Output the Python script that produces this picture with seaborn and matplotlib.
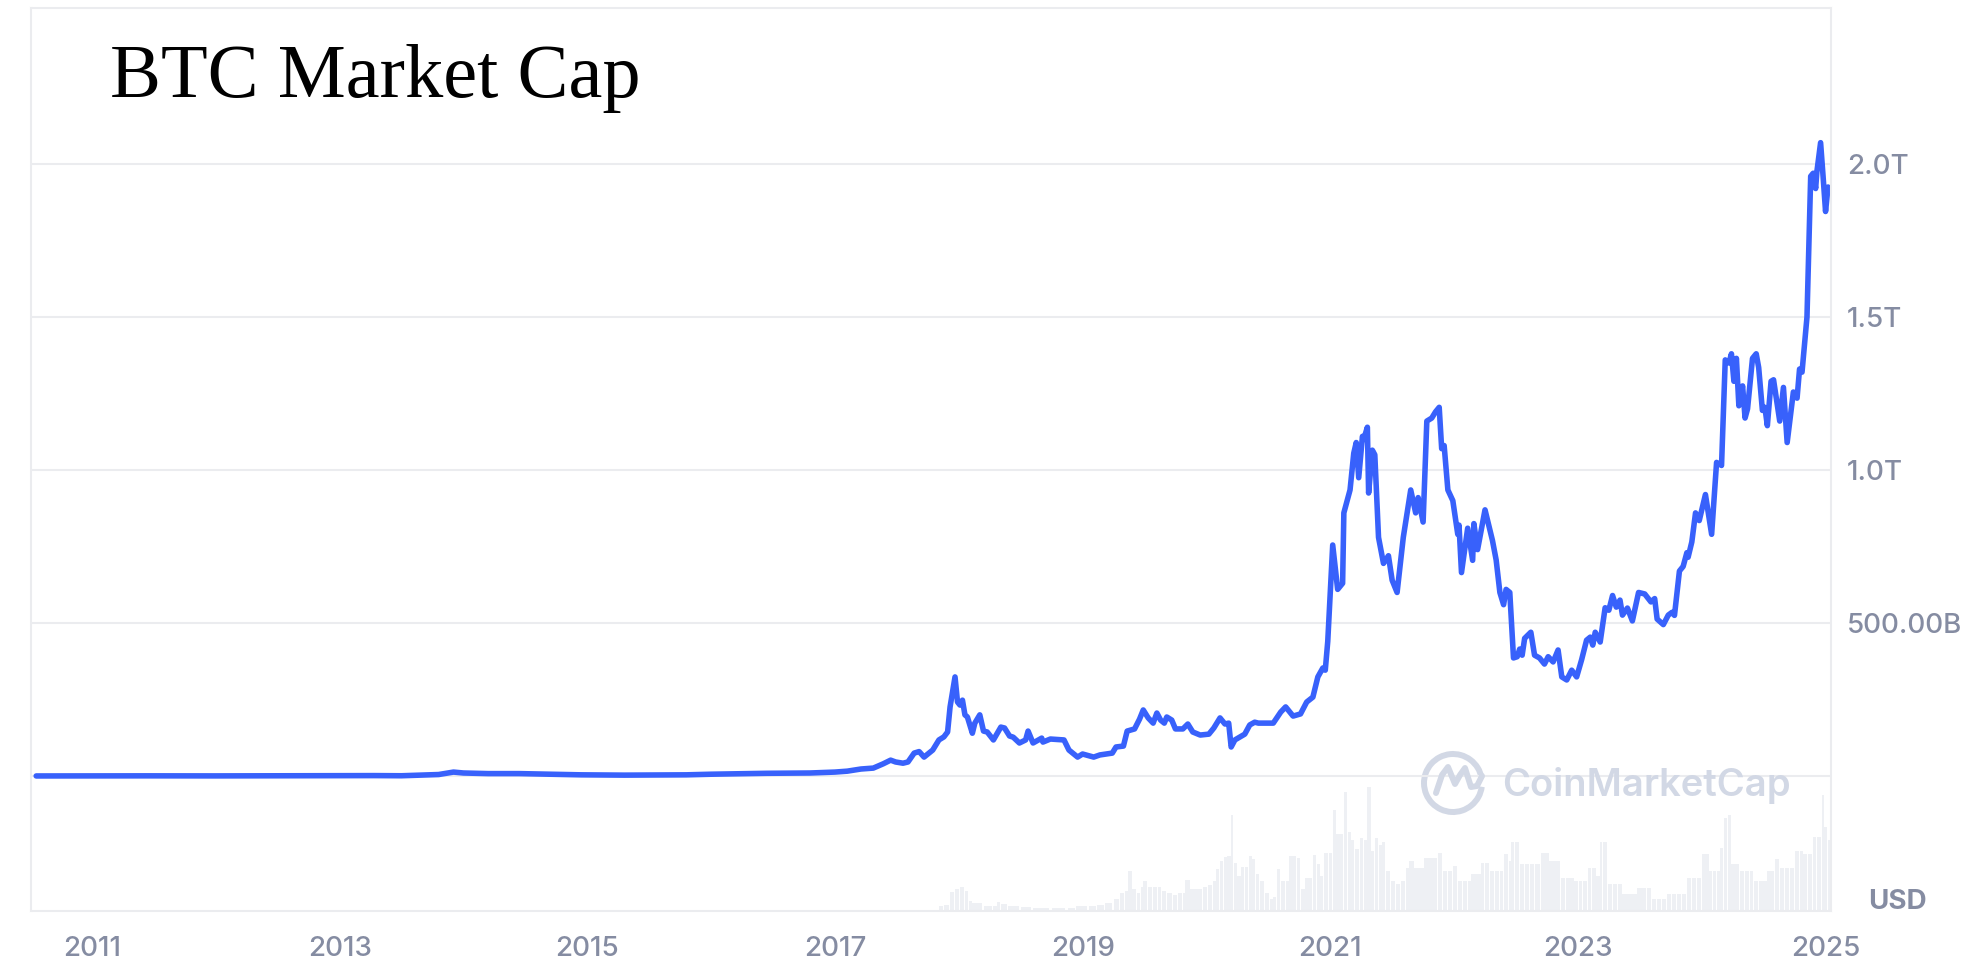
import numpy as np
import pandas as pd
import matplotlib
matplotlib.use("Agg")
import matplotlib.pyplot as plt
from matplotlib.patches import Arc
from matplotlib.lines import Line2D
import seaborn as sns

# --- Market cap (trillions USD) by fractional year ---
cap_years = [
    2010.55, 2011.00, 2011.45, 2012.00, 2012.70, 2013.00, 2013.28, 2013.50, 2013.80, 2013.92,
    2014.00, 2014.20, 2014.45, 2014.70, 2014.95, 2015.30, 2015.80, 2016.00, 2016.45, 2016.80,
    2017.00, 2017.10, 2017.21, 2017.31, 2017.39, 2017.45, 2017.49, 2017.55, 2017.59, 2017.64,
    2017.68, 2017.72, 2017.79, 2017.84, 2017.88, 2017.91, 2017.93, 2017.97, 2017.99, 2018.01,
    2018.03, 2018.05, 2018.07, 2018.11, 2018.13, 2018.17, 2018.20, 2018.23, 2018.28, 2018.34,
    2018.37, 2018.41, 2018.44, 2018.49, 2018.54, 2018.56, 2018.60, 2018.67, 2018.68, 2018.74,
    2018.85, 2018.89, 2018.96, 2019.00, 2019.09, 2019.14, 2019.24, 2019.27, 2019.33, 2019.36,
    2019.42, 2019.46, 2019.49, 2019.53, 2019.57, 2019.60, 2019.63, 2019.66, 2019.68, 2019.72,
    2019.75, 2019.81, 2019.85, 2019.89, 2019.95, 2020.02, 2020.06, 2020.11, 2020.15, 2020.18,
    2020.20, 2020.23, 2020.31, 2020.35, 2020.39, 2020.42, 2020.54, 2020.60, 2020.64, 2020.70,
    2020.76, 2020.81, 2020.86, 2020.90, 2020.94, 2020.96, 2020.98, 2021.02, 2021.06, 2021.10,
    2021.11, 2021.16, 2021.19, 2021.21, 2021.23, 2021.26, 2021.27, 2021.30, 2021.31, 2021.34,
    2021.36, 2021.39, 2021.43, 2021.47, 2021.50, 2021.54, 2021.59, 2021.65, 2021.69, 2021.71,
    2021.75, 2021.78, 2021.82, 2021.85, 2021.88, 2021.90, 2021.92, 2021.95, 2021.99, 2022.03,
    2022.04, 2022.06, 2022.11, 2022.15, 2022.16, 2022.19, 2022.25, 2022.31, 2022.34, 2022.37,
    2022.40, 2022.42, 2022.45, 2022.48, 2022.51, 2022.53, 2022.55, 2022.57, 2022.62, 2022.65,
    2022.69, 2022.73, 2022.76, 2022.80, 2022.84, 2022.87, 2022.91, 2022.95, 2022.99, 2023.03,
    2023.07, 2023.10, 2023.12, 2023.14, 2023.18, 2023.22, 2023.25, 2023.28, 2023.31, 2023.34,
    2023.36, 2023.40, 2023.44, 2023.49, 2023.54, 2023.59, 2023.62, 2023.64, 2023.69, 2023.73,
    2023.76, 2023.78, 2023.82, 2023.85, 2023.88, 2023.89, 2023.92, 2023.95, 2023.98, 2024.03,
    2024.08, 2024.12, 2024.16, 2024.19, 2024.22, 2024.24, 2024.26, 2024.28, 2024.30, 2024.33,
    2024.35, 2024.37, 2024.41, 2024.44, 2024.46, 2024.49, 2024.51, 2024.53, 2024.56, 2024.58,
    2024.63, 2024.66, 2024.69, 2024.74, 2024.77, 2024.79, 2024.81, 2024.85, 2024.88, 2024.90,
    2024.92, 2024.93, 2024.96, 2024.98, 2025.00, 2025.02,
]
cap_trillions = [
    0.0003, 0.0005, 0.0007, 0.0005, 0.0012, 0.0015, 0.0015, 0.0010, 0.0050, 0.0130,
    0.0100, 0.0080, 0.0080, 0.0060, 0.0040, 0.0030, 0.0040, 0.0060, 0.0090, 0.0100,
    0.0130, 0.0160, 0.023, 0.026, 0.040, 0.052, 0.046, 0.042, 0.046, 0.075,
    0.080, 0.062, 0.085, 0.118, 0.128, 0.144, 0.226, 0.324, 0.242, 0.232,
    0.248, 0.200, 0.193, 0.140, 0.173, 0.200, 0.147, 0.144, 0.118, 0.160,
    0.157, 0.131, 0.127, 0.108, 0.118, 0.147, 0.108, 0.124, 0.111, 0.121,
    0.118, 0.085, 0.062, 0.072, 0.062, 0.069, 0.075, 0.095, 0.098, 0.147,
    0.154, 0.186, 0.216, 0.190, 0.173, 0.206, 0.183, 0.173, 0.193, 0.183,
    0.154, 0.154, 0.170, 0.144, 0.134, 0.137, 0.157, 0.190, 0.170, 0.173,
    0.095, 0.118, 0.137, 0.167, 0.176, 0.173, 0.173, 0.209, 0.226, 0.196,
    0.203, 0.242, 0.258, 0.324, 0.353, 0.346, 0.440, 0.755, 0.610, 0.630,
    0.860, 0.935, 1.055, 1.090, 0.975, 1.110, 1.100, 1.140, 0.925, 1.065,
    1.050, 0.780, 0.695, 0.720, 0.640, 0.600, 0.780, 0.935, 0.860, 0.910,
    0.830, 1.160, 1.170, 1.190, 1.205, 1.070, 1.080, 0.935, 0.900, 0.790,
    0.820, 0.665, 0.810, 0.705, 0.825, 0.740, 0.870, 0.770, 0.706, 0.600,
    0.560, 0.610, 0.600, 0.386, 0.390, 0.415, 0.395, 0.450, 0.470, 0.395,
    0.386, 0.366, 0.390, 0.373, 0.412, 0.324, 0.314, 0.346, 0.324, 0.380,
    0.444, 0.454, 0.428, 0.470, 0.438, 0.550, 0.542, 0.590, 0.552, 0.575,
    0.526, 0.549, 0.507, 0.600, 0.595, 0.569, 0.580, 0.513, 0.495, 0.526,
    0.535, 0.525, 0.670, 0.685, 0.730, 0.715, 0.765, 0.860, 0.835, 0.920,
    0.790, 1.025, 1.015, 1.360, 1.350, 1.380, 1.290, 1.365, 1.210, 1.275,
    1.170, 1.200, 1.365, 1.380, 1.335, 1.195, 1.205, 1.145, 1.290, 1.295,
    1.160, 1.270, 1.090, 1.255, 1.235, 1.330, 1.320, 1.500, 1.960, 1.970,
    1.920, 1.975, 2.070, 1.960, 1.845, 1.925,
]

# --- Trading volume (billions USD) by fractional year ---
vol_years = [
    2017.84, 2017.88, 2017.93, 2017.97, 2018.01, 2018.05, 2018.08, 2018.11, 2018.20, 2018.28,
    2018.31, 2018.34, 2018.40, 2018.50, 2018.60, 2018.75, 2018.88, 2018.95, 2019.05, 2019.12,
    2019.18, 2019.25, 2019.30, 2019.34, 2019.37, 2019.40, 2019.44, 2019.47, 2019.49, 2019.53,
    2019.57, 2019.61, 2019.64, 2019.68, 2019.73, 2019.77, 2019.81, 2019.83, 2019.87, 2019.92,
    2019.97, 2020.01, 2020.05, 2020.08, 2020.11, 2020.14, 2020.17, 2020.20, 2020.22, 2020.25,
    2020.28, 2020.31, 2020.34, 2020.37, 2020.40, 2020.43, 2020.47, 2020.51, 2020.54, 2020.57,
    2020.60, 2020.64, 2020.67, 2020.70, 2020.73, 2020.76, 2020.80, 2020.83, 2020.86, 2020.89,
    2020.92, 2020.95, 2020.99, 2021.02, 2021.05, 2021.08, 2021.11, 2021.14, 2021.17, 2021.20,
    2021.24, 2021.27, 2021.30, 2021.33, 2021.36, 2021.39, 2021.42, 2021.45, 2021.49, 2021.53,
    2021.57, 2021.61, 2021.64, 2021.68, 2021.72, 2021.76, 2021.80, 2021.84, 2021.87, 2021.91,
    2021.95, 2021.99, 2022.03, 2022.07, 2022.11, 2022.14, 2022.18, 2022.22, 2022.25, 2022.29,
    2022.33, 2022.37, 2022.40, 2022.44, 2022.46, 2022.49, 2022.53, 2022.57, 2022.61, 2022.65,
    2022.70, 2022.73, 2022.77, 2022.81, 2022.86, 2022.90, 2022.94, 2022.97, 2023.01, 2023.04,
    2023.08, 2023.11, 2023.15, 2023.18, 2023.20, 2023.24, 2023.28, 2023.32, 2023.36, 2023.40,
    2023.44, 2023.48, 2023.52, 2023.56, 2023.60, 2023.64, 2023.68, 2023.72, 2023.76, 2023.80,
    2023.84, 2023.88, 2023.92, 2023.96, 2024.00, 2024.03, 2024.06, 2024.09, 2024.12, 2024.15,
    2024.18, 2024.21, 2024.24, 2024.27, 2024.31, 2024.35, 2024.39, 2024.42, 2024.46, 2024.49,
    2024.53, 2024.56, 2024.59, 2024.63, 2024.67, 2024.71, 2024.75, 2024.79, 2024.82, 2024.86,
    2024.90, 2024.93, 2024.97, 2024.99, 2025.02,
]
vol_billions = [
    5, 6, 19, 22, 24, 20, 10, 8, 5, 5,
    9, 7, 5, 4, 3, 3, 3, 5, 5, 6,
    8, 12, 18, 20, 40, 22, 18, 24, 30, 24,
    24, 24, 20, 18, 16, 18, 18, 31, 22, 22,
    24, 26, 30, 42, 50, 54, 55, 95, 48, 35,
    44, 44, 55, 52, 37, 30, 18, 12, 14, 42,
    30, 30, 55, 55, 53, 22, 33, 33, 56, 47,
    35, 58, 58, 100, 76, 76, 118, 78, 70, 62,
    72, 70, 123, 60, 72, 65, 68, 40, 30, 27,
    30, 43, 50, 43, 43, 53, 53, 53, 58, 40,
    40, 45, 30, 30, 30, 37, 37, 48, 48, 40,
    40, 40, 57, 50, 68, 68, 47, 47, 47, 47,
    58, 58, 50, 50, 33, 33, 33, 30, 30, 30,
    43, 43, 35, 68, 68, 27, 27, 27, 17, 17,
    17, 23, 23, 23, 12, 12, 12, 17, 17, 17,
    17, 33, 33, 33, 57, 57, 40, 40, 40, 63,
    92, 95, 47, 47, 40, 40, 40, 30, 30, 30,
    40, 40, 52, 43, 43, 43, 60, 60, 57, 57,
    73, 73, 115, 83, 70,
]

year_ticks = [2011, 2013, 2015, 2017, 2019, 2021, 2023, 2025]
cap_ticks = [0.0, 0.5, 1.0, 1.5, 2.0]
cap_tick_labels = ["", "500.00B", "1.0T", "1.5T", "2.0T"]

LINE_BLUE = "#3861FB"
LABEL_GREY = "#858CA2"
FRAME_GREY = "#EBECEF"
VOLUME_GREY = "#EEF0F4"
MARK_GREY = "#D2D8E5"

sns.set_theme(style="white")
plt.rcParams["font.family"] = ["Inter", "DejaVu Sans"]

W, H = 1978, 969
fig = plt.figure(figsize=(W / 100, H / 100), dpi=100)
ax = fig.add_axes([31 / W, 1 - 911 / H, 1800 / W, 903 / H])
ax_vol = ax.twinx()

cap_df = pd.DataFrame({"year": cap_years, "cap": cap_trillions})
vol_df = pd.DataFrame({"year": vol_years, "volume": vol_billions})

# Volume histogram in the lower band
edges = np.append(vol_df["year"].to_numpy(), 2025.05)
widths = np.diff(edges)
ax_vol.bar(vol_df["year"], vol_df["volume"], width=widths * 0.85, align="edge",
           color=VOLUME_GREY, linewidth=0)
ax_vol.set_ylim(0, 896)
ax_vol.set_yticks([])
for s in ax_vol.spines.values():
    s.set_visible(False)

ax.set_zorder(ax_vol.get_zorder() + 1)
ax.patch.set_visible(False)

sns.lineplot(data=cap_df, x="year", y="cap", ax=ax, color=LINE_BLUE, linewidth=4.0,
             estimator=None, sort=False, solid_joinstyle="round", solid_capstyle="round")

ax.set_xlim(2010.508, 2025.044)
ax.set_ylim(-0.441, 2.510)
ax.set_xticks(year_ticks)
ax.set_xticklabels([str(y) for y in year_ticks])
ax.set_yticks(cap_ticks)
ax.set_yticklabels(cap_tick_labels)
ax.yaxis.tick_right()
ax.set_xlabel("")
ax.set_ylabel("")
ax.tick_params(axis="y", length=0, pad=11.5, labelsize=20, labelcolor=LABEL_GREY)
ax.tick_params(axis="x", length=0, pad=18, labelsize=20, labelcolor=LABEL_GREY)
for lab in ax.get_xticklabels() + ax.get_yticklabels():
    lab.set_fontweight("medium")
ax.grid(axis="y", color=FRAME_GREY, linewidth=1.5)
ax.grid(axis="x", visible=False)
for s in ax.spines.values():
    s.set_visible(True)
    s.set_color(FRAME_GREY)
    s.set_linewidth(1.5)

# Title
fig.text(110 / W, 1 - 97 / H, "BTC Market Cap", ha="left", va="baseline",
         fontsize=55, color="black", family=["Liberation Serif", "DejaVu Serif"])

# Currency tag
fig.text(1897 / W, 1 - 902 / H, "USD", ha="center", va="center", fontsize=20,
         fontweight="bold", color=LABEL_GREY)

# Watermark: ring logo plus wordmark
cx, cy, r = 1453, 969 - 783, 29
fig.add_artist(Arc((cx / W, cy / H), 2 * r / W, 2 * r / H, theta1=20, theta2=345,
                   transform=fig.transFigure, color=MARK_GREY, linewidth=4.3))
mx = np.array([1436, 1442, 1448, 1455, 1460, 1465, 1471, 1477, 1482])
my = np.array([793, 775, 767, 784, 775, 768, 787, 786, 776])
fig.add_artist(Line2D(mx / W, 1 - my / H, transform=fig.transFigure, color=MARK_GREY,
                      linewidth=4.3, solid_joinstyle="round", solid_capstyle="round"))
fig.text(1502 / W, 1 - 785 / H, "CoinMarketCap", ha="left", va="center", fontsize=27.5,
         fontweight="semibold", color=MARK_GREY)

fig.savefig("out.png", dpi=100)
